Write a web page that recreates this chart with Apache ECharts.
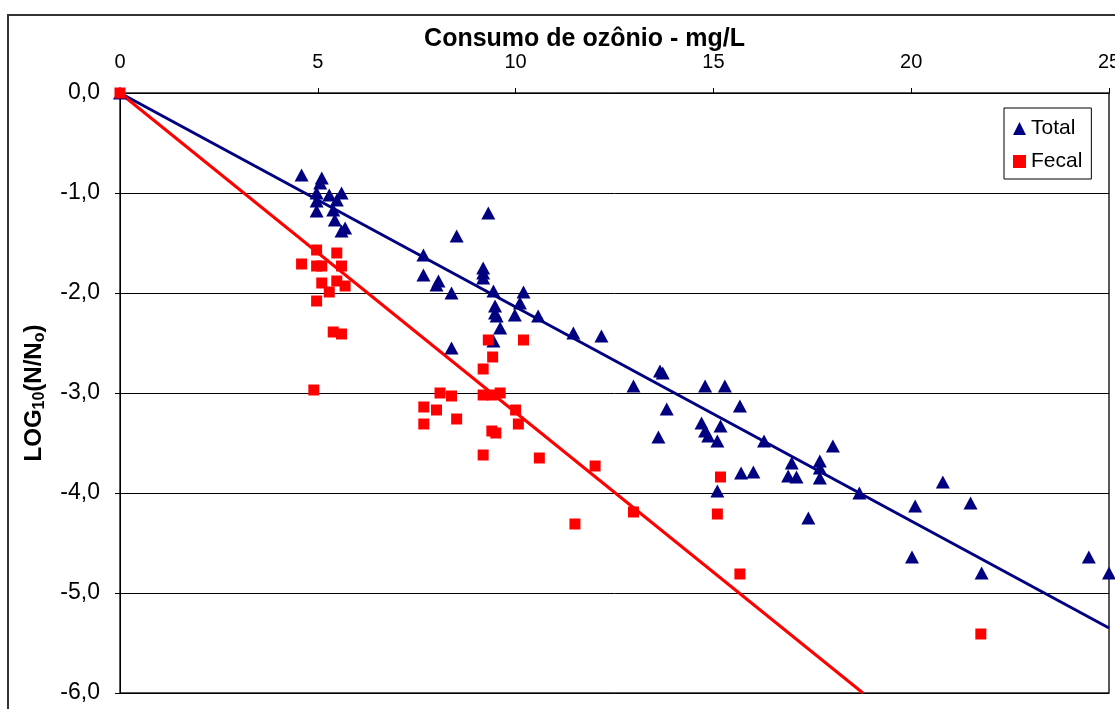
<!DOCTYPE html>
<html>
<head>
<meta charset="utf-8">
<title>Consumo de ozônio</title>
<script src="https://cdn.jsdelivr.net/npm/echarts@6/dist/echarts.min.js"></script>
<style>
  html, body { margin: 0; padding: 0; background: #fff; }
  #chart { width: 1115px; height: 709px; }
</style>
</head>
<body>
<div id="chart"></div>
<script>
// ozone dose (mg/L) and log reduction
const totalDose = [0, 4.59, 5.10, 5.06, 4.97, 5.29, 5.60, 4.97, 4.97, 5.39, 5.48, 5.43, 5.69, 5.60,
  9.31, 8.51, 7.67, 7.67, 8.05, 8.00, 8.38, 9.18, 9.18, 9.18, 9.44, 10.20, 10.11, 9.98, 9.48, 9.48,
  9.52, 9.61, 10.57, 11.46, 12.17, 9.44, 8.38, 13.65, 13.72, 12.98, 14.79, 15.29, 13.82, 15.67,
  14.70, 15.18, 14.79, 14.87, 15.10, 13.61, 16.28, 18.02, 16.98, 17.69, 17.69, 16.89, 17.10, 17.69,
  15.70, 16.01, 18.69, 15.10, 17.40, 20.80, 20.10, 21.50, 20.02, 21.78, 24.49, 25.00];
const totalLog = [0, -0.82, -0.85, -0.90, -1.00, -1.02, -1.00, -1.08, -1.18, -1.17, -1.07, -1.27, -1.35, -1.38,
  -1.20, -1.43, -1.62, -1.82, -1.88, -1.92, -2.00, -1.75, -1.80, -1.85, -1.98, -1.99, -2.10, -2.22, -2.13, -2.20,
  -2.23, -2.35, -2.23, -2.40, -2.43, -2.48, -2.55, -2.78, -2.80, -2.93, -2.93, -2.93, -3.16, -3.13,
  -3.30, -3.33, -3.38, -3.43, -3.48, -3.44, -3.48, -3.53, -3.70, -3.68, -3.75, -3.83, -3.84, -3.85,
  -3.80, -3.79, -4.00, -3.98, -4.25, -3.89, -4.13, -4.10, -4.64, -4.80, -4.64, -4.80];

const fecalDose = [0, 4.97, 5.48, 4.59, 4.97, 5.10, 5.60, 5.10, 5.48, 5.69, 5.29, 4.97, 5.39, 5.60,
  9.31, 10.20, 9.42, 9.18, 4.90, 8.09, 8.38, 9.18, 9.40, 9.61, 7.68, 8.00, 7.68, 8.51, 10.00, 10.07,
  9.40, 9.50, 9.18, 10.60, 12.01, 15.18, 12.98, 15.10, 11.50, 15.67, 21.76];
const fecalLog = [0, -1.57, -1.60, -1.71, -1.73, -1.73, -1.73, -1.90, -1.88, -1.93, -1.99, -2.08, -2.39, -2.41,
  -2.47, -2.47, -2.64, -2.76, -2.97, -3.00, -3.03, -3.02, -3.02, -3.00, -3.14, -3.17, -3.31, -3.26, -3.17, -3.31,
  -3.38, -3.40, -3.62, -3.65, -3.73, -3.84, -4.19, -4.21, -4.31, -4.81, -5.41];

// trend line end points (through the origin)
const totalTrend = [[0, 0], [25, -5.35]];
const fecalTrend = [[0, 0], [18.78, -6]];

const xTicks = { min: 0, max: 25, step: 5 };
const yTicks = { min: -6, max: 0, step: 1 };

const pairs = (xs, ys) => xs.map((x, i) => [x, ys[i]]);

const chart = echarts.init(document.getElementById('chart'));
const option = {
  animation: false,
  backgroundColor: '#fff',
  textStyle: { fontFamily: '"Liberation Sans", Arial, sans-serif', color: '#000' },
  graphic: [{
    type: 'rect',
    silent: true,
    shape: { x: 8, y: 15, width: 1200, height: 800 },
    style: { fill: 'none', stroke: '#333', lineWidth: 2 }
  }],
  grid: {
    left: 120, right: 6, top: 93, bottom: 16,
    outerBoundsMode: 'none',
    containLabel: false,
    show: true, borderColor: '#222', borderWidth: 1.5, backgroundColor: '#fff'
  },
  legend: {
    orient: 'vertical',
    left: 1004,
    top: 108,
    padding: [10, 9, 7, 9],
    itemGap: 12,
    itemWidth: 13,
    itemHeight: 13,
    backgroundColor: '#fff',
    borderColor: '#000',
    borderWidth: 1,
    borderRadius: 0,
    textStyle: { fontSize: 21, color: '#000' },
    data: [{ name: 'Total', icon: 'triangle' }, { name: 'Fecal', icon: 'rect' }]
  },
  xAxis: {
    type: 'value',
    position: 'top',
    min: xTicks.min,
    max: xTicks.max,
    interval: xTicks.step,
    name: 'Consumo de ozônio - mg/L',
    nameLocation: 'middle',
    nameGap: 41,
    nameMoveOverlap: false,
    nameTextStyle: { fontSize: 25, fontWeight: 'bold', color: '#000', padding: [0, 60, 0, 0] },
    axisLine: { onZero: false, lineStyle: { color: '#000', width: 1 } },
    axisTick: { show: true, length: 5, lineStyle: { color: '#000' } },
    axisLabel: { fontSize: 20, color: '#000', margin: 21 },
    splitLine: { show: false }
  },
  yAxis: {
    type: 'value',
    min: yTicks.min,
    max: yTicks.max,
    interval: yTicks.step,
    name: 'LOG{sub|10}(N/N{sub|o})',
    nameLocation: 'middle',
    nameGap: 72,
    nameRotate: 90,
    nameMoveOverlap: false,
    nameTextStyle: {
      fontSize: 24, fontWeight: 'bold', color: '#000', lineHeight: 28,
      rich: { sub: { fontSize: 16, fontWeight: 'bold', color: '#000', lineHeight: 28, verticalAlign: 'bottom' } }
    },
    axisLine: { show: true, onZero: false, lineStyle: { color: '#000', width: 1 } },
    axisTick: { show: true, length: 5, lineStyle: { color: '#000' } },
    axisLabel: {
      fontSize: 23, color: '#000', margin: 20,
      formatter: (v) => v.toFixed(1).replace('.', ',')
    },
    splitLine: { show: true, lineStyle: { color: '#000', width: 1 } }
  },
  series: [
    {
      name: 'Total trend',
      type: 'line',
      data: totalTrend,
      symbol: 'none',
      silent: true,
      z: 2,
      lineStyle: { color: '#000080', width: 3 }
    },
    {
      name: 'Fecal trend',
      type: 'line',
      data: fecalTrend,
      symbol: 'none',
      silent: true,
      z: 2,
      lineStyle: { color: '#ff0000', width: 3 }
    },
    {
      name: 'Total',
      type: 'scatter',
      data: pairs(totalDose, totalLog),
      symbol: 'triangle',
      symbolSize: [14, 13],
      z: 3,
      itemStyle: { color: '#000080', opacity: 1 }
    },
    {
      name: 'Fecal',
      type: 'scatter',
      data: pairs(fecalDose, fecalLog),
      symbol: 'rect',
      symbolSize: 11,
      z: 4,
      itemStyle: { color: '#ff0000', opacity: 1 }
    }
  ]
};
chart.setOption(option);
</script>
</body>
</html>
